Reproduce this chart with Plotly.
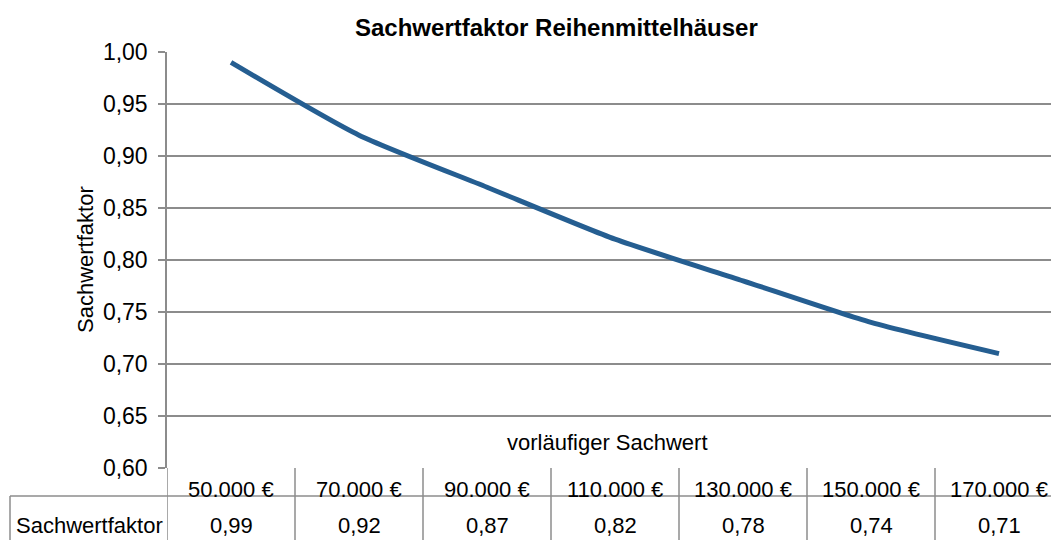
import plotly.graph_objects as go

# Chart data
kategorien = ["50.000 €", "70.000 €", "90.000 €", "110.000 €", "130.000 €", "150.000 €", "170.000 €"]
sachwertfaktor = [0.99, 0.92, 0.87, 0.82, 0.78, 0.74, 0.71]
y_ticks = [0.60, 0.65, 0.70, 0.75, 0.80, 0.85, 0.90, 0.95, 1.00]

W, H = 1051, 540
FONT = "Liberation Sans, Arial, sans-serif"
FS = 22
GRID = "#8c8c8c"
LINE = "#255E91"

# Plot area geometry (pixels)
left_px, top_px, bottom_px = 167, 52, 468
col_w = 128
n = len(kategorien)
x_end = -0.5 + (W - left_px) / col_w

def py(p):
    return 1 - p / H

fig = go.Figure()
fig.add_trace(go.Scatter(
    x=list(range(n)), y=sachwertfaktor, mode="lines",
    line=dict(color=LINE, width=5, shape="spline", smoothing=0.6),
    hoverinfo="skip", showlegend=False,
))

shapes = []
annotations = []

# Data table under the plot: vertical separators between categories
for i in range(n + 1):
    shapes.append(dict(type="line", xref="x", yref="paper",
                       x0=i - 0.5, x1=i - 0.5, y0=py(bottom_px), y1=py(H + 10),
                       line=dict(color=GRID, width=1.5)))
# Row separator and row-header box
shapes.append(dict(type="line", xref="paper", yref="paper",
                   x0=10 / W, x1=1, y0=py(496), y1=py(496),
                   line=dict(color=GRID, width=1.5)))
shapes.append(dict(type="line", xref="paper", yref="paper",
                   x0=10 / W, x1=10 / W, y0=py(496), y1=py(H + 10),
                   line=dict(color=GRID, width=1.5)))

txt_font = dict(family=FONT, size=FS, color="#000")

for i, (k, v) in enumerate(zip(kategorien, sachwertfaktor)):
    annotations.append(dict(x=i, y=py(489), xref="x", yref="paper", text=k,
                            showarrow=False, yanchor="middle", font=txt_font))
    annotations.append(dict(x=i, y=py(525), xref="x", yref="paper",
                            text=f"{v:.2f}".replace(".", ","),
                            showarrow=False, yanchor="middle", font=txt_font))

annotations.append(dict(x=14 / W, y=py(525), xref="paper", yref="paper",
                        text="Sachwertfaktor", showarrow=False,
                        xanchor="left", yanchor="middle", font=txt_font))

# Axis titles and chart title
annotations.append(dict(x=607 / W, y=py(442), xref="paper", yref="paper",
                        text="vorläufiger Sachwert", showarrow=False,
                        yanchor="middle", font=txt_font))
annotations.append(dict(x=86 / W, y=py(260), xref="paper", yref="paper",
                        text="Sachwertfaktor", showarrow=False, textangle=-90,
                        xanchor="center", yanchor="middle", font=txt_font))
annotations.append(dict(x=556 / W, y=py(28), xref="paper", yref="paper",
                        text="<b>Sachwertfaktor Reihenmittelhäuser</b>",
                        showarrow=False, yanchor="middle",
                        font=dict(family=FONT, size=24, color="#000")))

fig.update_layout(
    width=W, height=H,
    margin=dict(l=0, r=0, t=0, b=0, autoexpand=False),
    paper_bgcolor="white", plot_bgcolor="white",
    separators=",.",
    xaxis=dict(domain=[left_px / W, 1], range=[-0.5, x_end],
               showticklabels=False, showgrid=False, zeroline=False,
               automargin=False, fixedrange=True),
    yaxis=dict(domain=[py(bottom_px), py(top_px)], range=[0.60, 1.00],
               tickvals=y_ticks, tickformat=".2f",
               ticks="outside", ticklen=7, tickcolor=GRID, tickwidth=1.5,
               showgrid=True, gridcolor=GRID, gridwidth=1.5,
               showline=True, linecolor=GRID, linewidth=1.5,
               zeroline=False, ticklabelstandoff=6, automargin=False,
               tickfont=dict(family=FONT, size=23, color="#000")),
    shapes=shapes,
    annotations=annotations,
)

fig.write_html("out.html")
